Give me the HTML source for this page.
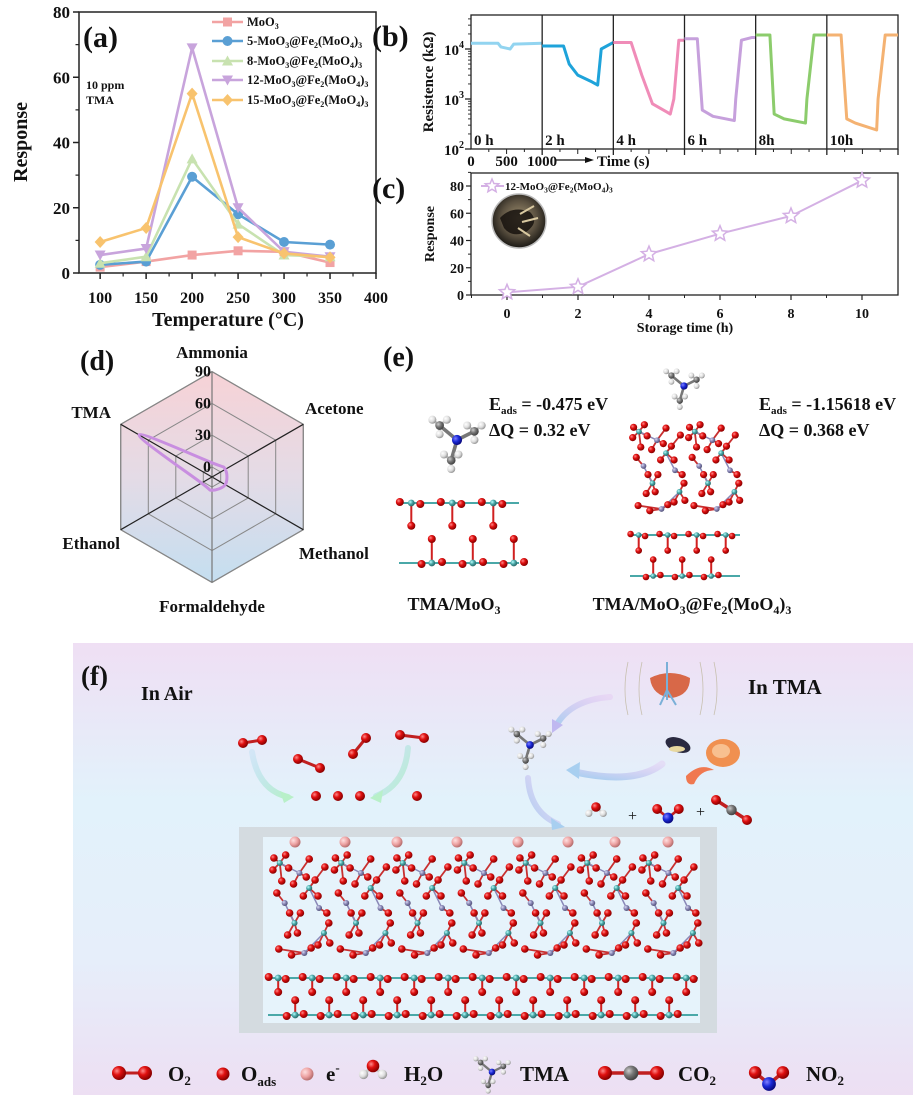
<!DOCTYPE html>
<html><head><meta charset="utf-8">
<style>
html,body{margin:0;padding:0;background:#fff;}
svg{display:block;font-family:"Liberation Serif",serif;font-weight:bold;}
.t{fill:#111;}
</style></head>
<body>
<svg id="fig" width="918" height="1100" viewBox="0 0 918 1100" xmlns="http://www.w3.org/2000/svg">
<defs>
<radialGradient id="gRed" cx="35%" cy="35%" r="65%"><stop offset="0" stop-color="#ff8a8a"/><stop offset="0.45" stop-color="#e01010"/><stop offset="1" stop-color="#8a0000"/></radialGradient>
<radialGradient id="gTeal" cx="35%" cy="35%" r="65%"><stop offset="0" stop-color="#bff"/><stop offset="0.5" stop-color="#4aa8a8"/><stop offset="1" stop-color="#2a6a6a"/></radialGradient>
<radialGradient id="gPur" cx="35%" cy="35%" r="65%"><stop offset="0" stop-color="#d8d8f0"/><stop offset="0.5" stop-color="#8a88b8"/><stop offset="1" stop-color="#55547a"/></radialGradient>
<radialGradient id="gPink" cx="35%" cy="35%" r="65%"><stop offset="0" stop-color="#ffe0e0"/><stop offset="0.6" stop-color="#eca0a0"/><stop offset="1" stop-color="#b87070"/></radialGradient>
<radialGradient id="gWhite" cx="35%" cy="35%" r="65%"><stop offset="0" stop-color="#fff"/><stop offset="0.6" stop-color="#ddd"/><stop offset="1" stop-color="#999"/></radialGradient>
<radialGradient id="gBlue" cx="35%" cy="35%" r="65%"><stop offset="0" stop-color="#8080ff"/><stop offset="0.5" stop-color="#1a2ad8"/><stop offset="1" stop-color="#0a0a80"/></radialGradient>
<radialGradient id="gGray" cx="35%" cy="35%" r="65%"><stop offset="0" stop-color="#ccc"/><stop offset="0.5" stop-color="#777"/><stop offset="1" stop-color="#444"/></radialGradient>
<linearGradient id="gRadar" x1="0" y1="0" x2="0" y2="1"><stop offset="0" stop-color="#f7d2d6"/><stop offset="0.5" stop-color="#e4dbe6"/><stop offset="1" stop-color="#c4def0"/></linearGradient>
<linearGradient id="gPanelF" x1="0" y1="0" x2="0" y2="1"><stop offset="0" stop-color="#efdff4"/><stop offset="0.35" stop-color="#e2f2fb"/><stop offset="0.7" stop-color="#e6eefa"/><stop offset="1" stop-color="#eddff3"/></linearGradient>
<linearGradient id="gArrow1" x1="0" y1="0" x2="1" y2="1"><stop offset="0" stop-color="#a8d8f0" stop-opacity="0.3"/><stop offset="1" stop-color="#b8f0c8"/></linearGradient>
<linearGradient id="gArrow2" x1="1" y1="0" x2="0" y2="1"><stop offset="0" stop-color="#e0b8f0" stop-opacity="0.3"/><stop offset="1" stop-color="#a8cff0"/></linearGradient>
<radialGradient id="gPhoto" cx="50%" cy="45%" r="55%"><stop offset="0" stop-color="#a09070"/><stop offset="0.6" stop-color="#5a5040"/><stop offset="1" stop-color="#1a1814"/></radialGradient>
</defs>

<!-- ============ PANEL A ============ -->
<g id="panelA">
  <text x="83" y="47" font-size="30" class="t">(a)</text>
  <text x="86" y="89" font-size="12" class="t">10 ppm</text>
  <text x="86" y="104" font-size="12" class="t">TMA</text>
  <text transform="translate(27,142) rotate(-90)" text-anchor="middle" font-size="20" class="t">Response</text>
  <text x="228" y="326" text-anchor="middle" font-size="20" class="t">Temperature (°C)</text>
  <g id="aLegend" font-size="12.5" class="t">
    <text x="247" y="26">MoO<tspan dy="3" font-size="8">3</tspan></text>
    <text x="247" y="45">5-MoO<tspan dy="3" font-size="8">3</tspan><tspan dy="-3">@Fe</tspan><tspan dy="3" font-size="8">2</tspan><tspan dy="-3">(MoO</tspan><tspan dy="3" font-size="8">4</tspan><tspan dy="-3">)</tspan><tspan dy="3" font-size="8">3</tspan></text>
    <text x="247" y="65">8-MoO<tspan dy="3" font-size="8">3</tspan><tspan dy="-3">@Fe</tspan><tspan dy="3" font-size="8">2</tspan><tspan dy="-3">(MoO</tspan><tspan dy="3" font-size="8">4</tspan><tspan dy="-3">)</tspan><tspan dy="3" font-size="8">3</tspan></text>
    <text x="247" y="84">12-MoO<tspan dy="3" font-size="8">3</tspan><tspan dy="-3">@Fe</tspan><tspan dy="3" font-size="8">2</tspan><tspan dy="-3">(MoO</tspan><tspan dy="3" font-size="8">4</tspan><tspan dy="-3">)</tspan><tspan dy="3" font-size="8">3</tspan></text>
    <text x="247" y="104">15-MoO<tspan dy="3" font-size="8">3</tspan><tspan dy="-3">@Fe</tspan><tspan dy="3" font-size="8">2</tspan><tspan dy="-3">(MoO</tspan><tspan dy="3" font-size="8">4</tspan><tspan dy="-3">)</tspan><tspan dy="3" font-size="8">3</tspan></text>
  </g>
</g>

<!-- ============ PANEL B ============ -->
<g id="panelB">
  <text x="372" y="46" font-size="30" class="t">(b)</text>
  <text transform="translate(433,82) rotate(-90)" text-anchor="middle" font-size="15" class="t">Resistence (kΩ)</text>
  <text x="597" y="166" font-size="15" class="t">Time (s)</text>
  <line x1="556" y1="160" x2="588" y2="160" stroke="#111" stroke-width="1.3"/>
  <path d="M594,160 L585,157 L585,163 Z" fill="#111"/>
</g>

<!-- ============ PANEL C ============ -->
<g id="panelC">
  <text x="372" y="198" font-size="30" class="t">(c)</text>
  <text transform="translate(434,234) rotate(-90)" text-anchor="middle" font-size="14" class="t">Response</text>
  <text x="685" y="332" text-anchor="middle" font-size="14" class="t">Storage time (h)</text>
  <circle cx="519" cy="221" r="27" fill="url(#gPhoto)" stroke="#bbb" stroke-width="1.5"/>
  <path d="M500,218 Q512,205 530,212 Q540,222 526,232 Q512,238 504,228 Z" fill="#16120e" opacity="0.85"/>
  <path d="M520,214 L534,206 M522,222 L538,218 M518,228 L530,236" stroke="#d8c8a0" stroke-width="2"/>
  <text x="505" y="190" font-size="11" class="t">12-MoO<tspan dy="2.5" font-size="7.5">3</tspan><tspan dy="-2.5">@Fe</tspan><tspan dy="2.5" font-size="7.5">2</tspan><tspan dy="-2.5">(MoO</tspan><tspan dy="2.5" font-size="7.5">4</tspan><tspan dy="-2.5">)</tspan><tspan dy="2.5" font-size="7.5">3</tspan></text>
</g>

<!-- ============ PANEL D ============ -->
<g id="panelD">
  <text x="80" y="370" font-size="28" class="t">(d)</text>
</g>

<!-- ============ PANEL E ============ -->
<g id="panelE">
  <text x="383" y="366" font-size="28" class="t">(e)</text>
  <text x="489" y="410" font-size="18" class="t">E<tspan dy="4" font-size="11">ads</tspan><tspan dy="-4"> = -0.475 eV</tspan></text>
  <text x="489" y="436" font-size="18" class="t">ΔQ = 0.32 eV</text>
  <text x="759" y="410" font-size="18" class="t">E<tspan dy="4" font-size="11">ads</tspan><tspan dy="-4"> = -1.15618 eV</tspan></text>
  <text x="759" y="436" font-size="18" class="t">ΔQ = 0.368 eV</text>
  <text x="454" y="610" text-anchor="middle" font-size="18" class="t">TMA/MoO<tspan dy="4" font-size="12">3</tspan></text>
  <text x="692" y="610" text-anchor="middle" font-size="18" class="t">TMA/MoO<tspan dy="4" font-size="12">3</tspan><tspan dy="-4">@Fe</tspan><tspan dy="4" font-size="12">2</tspan><tspan dy="-4">(MoO</tspan><tspan dy="4" font-size="12">4</tspan><tspan dy="-4">)</tspan><tspan dy="4" font-size="12">3</tspan></text>
</g>

<!-- ============ PANEL F ============ -->
<g id="panelF">
  <rect x="73" y="643" width="840" height="452" fill="url(#gPanelF)"/>
  <text x="81" y="685" font-size="27" class="t">(f)</text>
  <text x="141" y="700" font-size="20" class="t">In Air</text>
  <text x="748" y="694" font-size="21" class="t">In TMA</text>
  <rect x="239" y="827" width="478" height="206" fill="#d4dbe0"/>
  <rect x="263" y="837" width="437" height="186" fill="#e6f3fb"/>
  <g id="fArrows">
    <path d="M252,752 Q258,790 288,797" fill="none" stroke="url(#gArrow1)" stroke-width="6" stroke-linecap="round"/>
    <path d="M294,797 L280,791 L284,803 Z" fill="#b8f0c8"/>
    <path d="M408,748 Q405,785 376,796" fill="none" stroke="url(#gArrow1)" stroke-width="6" stroke-linecap="round"/>
    <path d="M370,798 L383,790 L381,803 Z" fill="#b8f0c8"/>
    <path d="M610,697 Q570,700 556,726" fill="none" stroke="url(#gArrow2)" stroke-width="6" stroke-linecap="round"/>
    <path d="M552,733 L552,719 L563,725 Z" fill="#c0b8f0"/>
    <path d="M662,764 Q635,785 575,772" fill="none" stroke="url(#gArrow2)" stroke-width="7" stroke-linecap="round"/>
    <path d="M566,770 L580,762 L579,779 Z" fill="#a8cff0"/>
    <path d="M528,778 Q530,812 558,824" fill="none" stroke="url(#gArrow2)" stroke-width="6" stroke-linecap="round"/>
    <path d="M565,827 L551,818 L552,830 Z" fill="#a8cff0"/>
  </g>
  <g id="fSources">
    <path d="M628,662 Q622,690 628,715 M642,662 Q636,690 642,715 M700,662 Q706,690 700,715 M714,662 Q720,690 714,715" fill="none" stroke="#c8c0b0" stroke-width="0.8"/>
    <path d="M650,678 Q670,668 690,678 Q690,695 672,698 Q652,696 650,678 Z" fill="#d86848"/>
    <path d="M667,662 L667,700 M667,690 L676,705 M667,690 L660,705" stroke="#7ab0d8" stroke-width="2"/>
    <ellipse cx="678" cy="745" rx="13" ry="7" fill="#2a2a40" transform="rotate(20 678 745)"/>
    <ellipse cx="677" cy="749" rx="8" ry="3" fill="#e8d8a0"/>
    <ellipse cx="723" cy="753" rx="17" ry="14" fill="#f09050"/>
    <ellipse cx="721" cy="751" rx="9" ry="7" fill="#f8c090"/>
    <path d="M686,776 Q700,762 714,770 Q700,770 694,784 Q686,786 686,776 Z" fill="#f07850"/>
  </g>
  <text x="628" y="821" font-size="16" class="t" font-weight="normal">+</text>
  <text x="696" y="817" font-size="16" class="t" font-weight="normal">+</text>
  <g id="fLegendText" font-size="21" class="t">
    <text x="168" y="1081">O<tspan dy="4" font-size="13">2</tspan></text>
    <text x="241" y="1081">O<tspan dy="5" font-size="13">ads</tspan></text>
    <text x="326" y="1081">e<tspan dy="-9" font-size="13">-</tspan></text>
    <text x="404" y="1081">H<tspan dy="4" font-size="13">2</tspan><tspan dy="-4">O</tspan></text>
    <text x="520" y="1081">TMA</text>
    <text x="678" y="1081">CO<tspan dy="4" font-size="13">2</tspan></text>
    <text x="806" y="1081">NO<tspan dy="4" font-size="13">2</tspan></text>
  </g>
</g>
</svg>

<script>
// ---------- Panel (a) data ----------
const tempC = [100, 150, 200, 250, 300, 350];
const respMoO3 = [1.8, 3.5, 5.5, 6.8, 6.5, 3.2];
const resp5 = [2.5, 3.5, 29.5, 18, 9.5, 8.7];
const resp8 = [3, 5, 35, 15, 5.5, 5];
const resp12 = [5.5, 7.5, 69, 20, 6.5, 5];
const resp15 = [9.5, 13.8, 55, 11, 6, 4.8];
const aXTicks = [100, 150, 200, 250, 300, 350, 400];
const aYTicks = [0, 20, 40, 60, 80];

// ---------- Panel (b) data ----------
const bSegLabels = ['0 h', '2 h', '4 h', '6 h', '8h', '10h'];
const bXTickLabels = ['0', '500', '1000'];
const traceT0 = [0, 380, 420, 550, 600, 1000];
const traceR0 = [13000, 13000, 11000, 10000, 12500, 13000];
const traceT1 = [0, 300, 380, 500, 700, 780, 830, 1000];
const traceR1 = [11500, 11500, 5000, 3000, 2200, 1900, 10000, 13500];
const traceT2 = [0, 250, 400, 550, 750, 800, 850, 920, 1000];
const traceR2 = [13500, 13500, 3000, 800, 550, 500, 1000, 15000, 15000];
const traceT3 = [0, 180, 250, 400, 700, 720, 800, 950, 1000];
const traceR3 = [16000, 16000, 600, 450, 370, 1000, 15000, 17000, 17000];
const traceT4 = [0, 200, 260, 400, 700, 720, 820, 1000];
const traceR4 = [19000, 19000, 500, 400, 330, 1000, 19000, 19000];
const traceT5 = [0, 200, 280, 400, 700, 720, 820, 1000];
const traceR5 = [19000, 19000, 400, 330, 240, 1000, 19000, 19000];

// ---------- Panel (c) data ----------
const storageH = [0, 2, 4, 6, 8, 10];
const storageResp = [2, 6, 30, 45, 58, 84];
const cXTicks = [0, 2, 4, 6, 8, 10];
const cYTicks = [0, 20, 40, 60, 80];

// ---------- Panel (d) data ----------
const gases = ['Ammonia', 'Acetone', 'Methanol', 'Formaldehyde', 'Ethanol', 'TMA'];
const gasResp = [4, 5, 5, 3, 2, 70];
const radarTicks = [0, 30, 60, 90];

const NS = 'http://www.w3.org/2000/svg';
function mk(tag, parent, attrs) {
  const e = document.createElementNS(NS, tag);
  for (const k in attrs) e.setAttribute(k, attrs[k]);
  parent.appendChild(e);
  return e;
}

// ================= PANEL A =================
(function () {
  const g = document.getElementById('panelA');
  const X0 = 79, X1 = 376, Y0 = 273, Y1 = 12;
  const xa = v => X0 + (v - 77) * (X1 - X0) / (400 - 77);
  const ya = v => Y0 - v * (Y0 - Y1) / 80;
  const frame = mk('rect', g, {x: X0, y: Y1, width: X1 - X0, height: Y0 - Y1, fill: 'none', stroke: '#222', 'stroke-width': 1.5});
  
  
  aXTicks.forEach(v => {
    const x = xa(v);
    const tk = mk('line', g, {x1: x, y1: Y0, x2: x, y2: Y0 + 6, stroke: '#222', 'stroke-width': 1.5});
    
    
    const mx = xa(v + 25);
    if (v < 400) {
      const mt = mk('line', g, {x1: mx, y1: Y0, x2: mx, y2: Y0 + 3.5, stroke: '#222', 'stroke-width': 1.2});
      
      
    }
    const t = mk('text', g, {x: x, y: 303, 'text-anchor': 'middle', 'font-size': 16, class: 't'});
    t.textContent = v;
    
    
  });
  aYTicks.forEach(v => {
    const y = ya(v);
    const tk = mk('line', g, {x1: X0 - 6, y1: y, x2: X0, y2: y, stroke: '#222', 'stroke-width': 1.5});
    
    
    if (v < 80) {
      const mt = mk('line', g, {x1: X0 - 3.5, y1: ya(v + 10), x2: X0, y2: ya(v + 10), stroke: '#222', 'stroke-width': 1.2});
      
      
    }
    const t = mk('text', g, {x: X0 - 9, y: y + 6, 'text-anchor': 'end', 'font-size': 17, class: 't'});
    t.textContent = v;
    
    
  });
  const series = [respMoO3, resp5, resp8, resp12, resp15];
  const colors = ['#f2a3a3', '#5a9fd4', '#c8e2b0', '#c8a4dc', '#f8c36e'];
  const shapes = ['sq', 'ci', 'tu', 'td', 'di'];
  const names = ['moo3', '5', '8', '12', '15'];
  const legY = [22, 41, 61, 80, 100];
  function marker(shape, x, y, col, parent) {
    let e;
    const r = 4.5;
    if (shape === 'sq') e = mk('rect', parent, {x: x - r, y: y - r, width: 2 * r, height: 2 * r, fill: col});
    else if (shape === 'ci') e = mk('circle', parent, {cx: x, cy: y, r: r + 0.5, fill: col});
    else if (shape === 'tu') e = mk('path', parent, {d: `M${x},${y - r - 1} L${x + r + 1},${y + r} L${x - r - 1},${y + r} Z`, fill: col});
    else if (shape === 'td') e = mk('path', parent, {d: `M${x},${y + r + 1} L${x + r + 1},${y - r} L${x - r - 1},${y - r} Z`, fill: col});
    else e = mk('path', parent, {d: `M${x},${y - r - 1.5} L${x + r + 1},${y} L${x},${y + r + 1.5} L${x - r - 1},${y} Z`, fill: col});
    return e;
  }
  series.forEach((s, i) => {
    const sg = mk('g', g, {});
    
    
    const pts = s.map((v, j) => xa(tempC[j]) + ',' + ya(v)).join(' ');
    const pl = mk('polyline', sg, {points: pts, fill: 'none', stroke: colors[i], 'stroke-width': 2.6});
    
    
    s.forEach((v, j) => {
      const m = marker(shapes[i], xa(tempC[j]), ya(v), colors[i], sg);
      
      
    });
    const ll = mk('line', g, {x1: 212, y1: legY[i], x2: 243, y2: legY[i], stroke: colors[i], 'stroke-width': 2.6});
    
    
    const lm = marker(shapes[i], 227.5, legY[i], colors[i], g);
    
    
  });
})();

// ================= PANEL B =================
(function () {
  const g = document.getElementById('panelB');
  const X0 = 471, X1 = 898, Y0 = 149, Y1 = 15;
  const segW = (X1 - X0) / 6;
  const xb = (seg, t) => X0 + seg * segW + t * segW / 1000;
  const yb = r => Y0 - (Math.log10(r) - 2) * 50;
  const frame = mk('rect', g, {x: X0, y: Y1, width: X1 - X0, height: Y0 - Y1, fill: 'none', stroke: '#222', 'stroke-width': 1.3});
  
  
  const Ts = [traceT0, traceT1, traceT2, traceT3, traceT4, traceT5];
  const Rs = [traceR0, traceR1, traceR2, traceR3, traceR4, traceR5];
  const cols = ['#92d4f0', '#1ea3da', '#f08cb8', '#c6a0dc', '#8ccc6c', '#f4b272'];
  for (let s = 0; s < 6; s++) {
    if (s > 0) {
      const d = mk('line', g, {x1: xb(s, 0), y1: Y1, x2: xb(s, 0), y2: Y0 + 6, stroke: '#222', 'stroke-width': 1.3});
      
      
    }
    const pts = Ts[s].map((t, j) => xb(s, t) + ',' + yb(Rs[s][j])).join(' ');
    const pl = mk('polyline', g, {points: pts, fill: 'none', stroke: cols[s], 'stroke-width': 3, 'stroke-linejoin': 'round'});
    
    
    const lb = mk('text', g, {x: xb(s, 0) + 3, y: 145, 'font-size': 15, class: 't'});
    lb.textContent = bSegLabels[s];
    
    
    [250, 500, 750].forEach(t => {
      const tk = mk('line', g, {x1: xb(s, t), y1: Y0, x2: xb(s, t), y2: Y0 + (t === 500 ? 5 : 3), stroke: '#222', 'stroke-width': 1});
      
      
    });
  }
  const endTick = mk('line', g, {x1: X1, y1: Y0, x2: X1, y2: Y0 + 6, stroke: '#222', 'stroke-width': 1.3});
  
  
  bXTickLabels.forEach((lab, i) => {
    const t = mk('text', g, {x: xb(0, i * 500), y: 166, 'text-anchor': 'middle', 'font-size': 15, class: 't'});
    t.textContent = lab;
    
    
  });
  [2, 3, 4].forEach(p => {
    const y = yb(Math.pow(10, p));
    const tk = mk('line', g, {x1: X0 - 6, y1: y, x2: X0, y2: y, stroke: '#222', 'stroke-width': 1.3});
    
    
    const t = mk('text', g, {x: 444, y: y + 6, 'font-size': 15, class: 't'});
    t.innerHTML = '10<tspan dy="-7" font-size="10">' + p + '</tspan>';
    
    
  });
  for (let p = 2; p <= 4; p++) for (let k = 2; k <= 9; k++) {
    const y = yb(k * Math.pow(10, p));
    if (y < Y1) continue;
    const mt = mk('line', g, {x1: X0 - 3, y1: y, x2: X0, y2: y, stroke: '#222', 'stroke-width': 0.9});
    
    
  }
})();

// ================= PANEL C =================
(function () {
  const g = document.getElementById('panelC');
  const X0 = 471, X1 = 898, Y0 = 295, Y1 = 173;
  const xc = v => 507 + v * 35.5;
  const yc = v => Y0 - v * 1.3625;
  const frame = mk('rect', g, {x: X0, y: Y1, width: X1 - X0, height: Y0 - Y1, fill: 'none', stroke: '#222', 'stroke-width': 1.3});
  
  
  cXTicks.forEach(v => {
    const tk = mk('line', g, {x1: xc(v), y1: Y0, x2: xc(v), y2: Y0 + 5, stroke: '#222', 'stroke-width': 1.2});
    
    
    const mt = mk('line', g, {x1: xc(v - 1), y1: Y0, x2: xc(v - 1), y2: Y0 + 3, stroke: '#222', 'stroke-width': 1});
    
    
    const t = mk('text', g, {x: xc(v), y: 318, 'text-anchor': 'middle', 'font-size': 14, class: 't'});
    t.textContent = v;
    
    
  });
  cYTicks.forEach(v => {
    const tk = mk('line', g, {x1: X0 - 5, y1: yc(v), x2: X0, y2: yc(v), stroke: '#222', 'stroke-width': 1.2});
    
    
    const mt = mk('line', g, {x1: X0 - 3, y1: yc(v + 10), x2: X0, y2: yc(v + 10), stroke: '#222', 'stroke-width': 1});
    
    
    const t = mk('text', g, {x: X0 - 7, y: yc(v) + 5, 'text-anchor': 'end', 'font-size': 14, class: 't'});
    t.textContent = v;
    
    
  });
  const col = '#d4b0e4';
  function star(cx, cy, r) {
    let d = '';
    for (let i = 0; i < 10; i++) {
      const a = -Math.PI / 2 + i * Math.PI / 5;
      const rr = i % 2 ? r * 0.45 : r;
      d += (i ? 'L' : 'M') + (cx + rr * Math.cos(a)).toFixed(1) + ',' + (cy + rr * Math.sin(a)).toFixed(1);
    }
    return d + 'Z';
  }
  const pts = storageH.map((h, i) => xc(h) + ',' + yc(storageResp[i])).join(' ');
  const pl = mk('polyline', g, {points: pts, fill: 'none', stroke: col, 'stroke-width': 2});
  
  
  storageH.forEach((h, i) => {
    const s = mk('path', g, {d: star(xc(h), yc(storageResp[i]), 8), fill: '#fff', stroke: col, 'stroke-width': 1.5});
    
    
  });
  const ll = mk('line', g, {x1: 481, y1: 186, x2: 504, y2: 186, stroke: col, 'stroke-width': 2});
  
  
  const ls = mk('path', g, {d: star(492, 186, 7), fill: '#fff', stroke: col, 'stroke-width': 1.5});
  
  
})();

// ================= PANEL D (radar) =================
(function () {
  const g = document.getElementById('panelD');
  const cx = 212, cy = 477;
  const rr = v => 10 + v * 1.06;
  const ang = i => -Math.PI / 2 + i * Math.PI / 3;
  const pt = (i, r) => [cx + r * Math.cos(ang(i)), cy + r * Math.sin(ang(i))];
  const hex = r => gases.map((_, i) => pt(i, r).map(n => n.toFixed(1)).join(',')).join(' ');
  const bg = mk('polygon', g, {points: hex(rr(90)), fill: 'url(#gRadar)', stroke: '#777', 'stroke-width': 1.2});
  
  
  radarTicks.forEach(v => {
    const p = mk('polygon', g, {points: hex(rr(v)), fill: 'none', stroke: '#888', 'stroke-width': 1});
    
    
  });
  gases.forEach((_, i) => {
    const [x, y] = pt(i, rr(90));
    const l = mk('line', g, {x1: cx, y1: cy, x2: x, y2: y, stroke: i % 3 === 0 ? '#777' : '#222', 'stroke-width': 1.2});
    
    
  });
  const P = gasResp.map((v, i) => pt(i, rr(v)));
  let d = 'M' + P[0][0].toFixed(1) + ',' + P[0][1].toFixed(1);
  const n = P.length;
  for (let i = 0; i < n; i++) {
    const p0 = P[(i - 1 + n) % n], p1 = P[i], p2 = P[(i + 1) % n], p3 = P[(i + 2) % n];
    const c1 = [p1[0] + (p2[0] - p0[0]) / 6, p1[1] + (p2[1] - p0[1]) / 6];
    const c2 = [p2[0] - (p3[0] - p1[0]) / 6, p2[1] - (p3[1] - p1[1]) / 6];
    d += ` C${c1[0].toFixed(1)},${c1[1].toFixed(1)} ${c2[0].toFixed(1)},${c2[1].toFixed(1)} ${p2[0].toFixed(1)},${p2[1].toFixed(1)}`;
  }
  const curve = mk('path', g, {d: d + 'Z', fill: 'none', stroke: '#c88ee0', 'stroke-width': 3});
  
  
  radarTicks.forEach(v => {
    const t = mk('text', g, {x: 211, y: cy - rr(v) + 5, 'text-anchor': 'end', 'font-size': 16, class: 't'});
    t.textContent = v;
    
    
  });
  const labPos = [[212, 358, 'middle'], [305, 414, 'start'], [299, 559, 'start'], [212, 612, 'middle'], [120, 549, 'end'], [111, 418, 'end']];
  gases.forEach((name, i) => {
    const t = mk('text', g, {x: labPos[i][0], y: labPos[i][1], 'text-anchor': labPos[i][2], 'font-size': 17, class: 't'});
    t.textContent = name;
    
    
  });
})();

// ================= molecule helpers =================
function atom(parent, x, y, r, fill, name) {
  const c = mk('circle', parent, {cx: x, cy: y, r: r, fill: 'url(#' + fill + ')'});
  
  
  return c;
}
function bond(parent, x1, y1, x2, y2, col, w) {
  const l = mk('line', parent, {x1: x1, y1: y1, x2: x2, y2: y2, stroke: col, 'stroke-width': w || 2.5});
  
  
}
function moo3Slab(parent, x0, x1, yTop, yBot, sp, r) {
  const yMidT = yTop + (yBot - yTop) * 0.38, yMidB = yTop + (yBot - yTop) * 0.6;
  bond(parent, x0, yTop, x1, yTop, '#4aa8a8', 2);
  bond(parent, x0, yBot, x1, yBot, '#4aa8a8', 2);
  for (let x = x0 + sp * 0.3; x < x1; x += sp) {
    bond(parent, x, yTop, x, yMidT, '#d02020', 2);
    atom(parent, x, yMidT, r, 'gRed', 'oxygen-atom');
    atom(parent, x - sp * 0.28, yTop - 1, r, 'gRed', 'oxygen-atom');
    atom(parent, x + sp * 0.22, yTop + 1, r, 'gRed', 'oxygen-atom');
    atom(parent, x, yTop, r * 0.85, 'gTeal', 'mo-atom');
    const xb = x + sp * 0.5;
    if (xb < x1) {
      bond(parent, xb, yBot, xb, yMidB, '#d02020', 2);
      atom(parent, xb, yMidB, r, 'gRed', 'oxygen-atom');
      atom(parent, xb - sp * 0.25, yBot + 1, r, 'gRed', 'oxygen-atom');
      atom(parent, xb + sp * 0.25, yBot - 1, r, 'gRed', 'oxygen-atom');
      atom(parent, xb, yBot, r * 0.85, 'gTeal', 'mo-atom');
    }
  }
}
const unitMetals = [[10,10,'gTeal'],[40,35,'gTeal'],[25,70,'gTeal'],[55,80,'gTeal'],[30,20,'gPur'],[50,55,'gPur'],[15,50,'gPur'],[35,100,'gPur']];
const unitO = [[4,5],[16,2],[19,15],[3,17],[24,31],[46,27],[49,43],[34,43],[20,60],[31,60],[28,80],[18,82],[60,70],[61,90],[49,92],[42,95],[7,40],[56,14],[40,6],[9,96],[22,102],[58,60],[37,24],[12,28]];
function fmoUnit(parent, ox, oy, sx, sy, r) {
  unitO.forEach(o => {
    let best = null, bd = 1e9;
    unitMetals.forEach(m => { const dd = (m[0]-o[0])**2 + (m[1]-o[1])**2; if (dd < bd) { bd = dd; best = m; } });
    bond(parent, ox + o[0]*sx, oy + o[1]*sy, ox + best[0]*sx, oy + best[1]*sy, '#c83030', 1.8);
  });
  for (let i = 0; i < 4; i++) {
    const a = unitMetals[i], b = unitMetals[i + 4];
    bond(parent, ox + a[0]*sx, oy + a[1]*sy, ox + b[0]*sx, oy + b[1]*sy, '#8a88b8', 1.5);
  }
  unitO.forEach(o => atom(parent, ox + o[0]*sx, oy + o[1]*sy, r, 'gRed', 'oxygen-atom'));
  unitMetals.forEach(m => atom(parent, ox + m[0]*sx, oy + m[1]*sy, r * 0.8, m[2], m[2] === 'gTeal' ? 'mo-atom' : 'fe-atom'));
}
function tma(parent, x, y, s) {
  const arms = [[-12,-10],[12,-6],[-4,14]];
  arms.forEach(a => {
    bond(parent, x, y, x + a[0]*s, y + a[1]*s, '#777', 2.5*s);
    [[-5,-4],[5,-4],[0,6]].forEach(h => {
      bond(parent, x + a[0]*s, y + a[1]*s, x + (a[0]+h[0])*s, y + (a[1]+h[1])*s, '#bbb', 1.8*s);
      atom(parent, x + (a[0]+h[0])*s, y + (a[1]+h[1])*s, 2.8*s, 'gWhite', 'hydrogen-atom');
    });
    atom(parent, x + a[0]*s, y + a[1]*s, 3*s, 'gGray', 'carbon-atom');
  });
  atom(parent, x, y, 3.5*s, 'gBlue', 'nitrogen-atom');
}
function o2(parent, x1, y1, x2, y2, r) {
  bond(parent, x1, y1, x2, y2, '#c02020', 3);
  atom(parent, x1, y1, r, 'gRed', 'oxygen-atom');
  atom(parent, x2, y2, r, 'gRed', 'oxygen-atom');
}
function h2o(parent, x, y, s) {
  bond(parent, x, y, x - 9*s, y + 8*s, '#ccc', 3*s);
  bond(parent, x, y, x + 9*s, y + 8*s, '#ccc', 3*s);
  atom(parent, x - 9*s, y + 8*s, 4.5*s, 'gWhite', 'hydrogen-atom');
  atom(parent, x + 9*s, y + 8*s, 4.5*s, 'gWhite', 'hydrogen-atom');
  atom(parent, x, y, 6*s, 'gRed', 'oxygen-atom');
}
function no2(parent, x, y, s) {
  bond(parent, x, y, x - 12*s, y - 10*s, '#c02020', 3*s);
  bond(parent, x, y, x + 12*s, y - 10*s, '#c02020', 3*s);
  atom(parent, x - 12*s, y - 10*s, 5.5*s, 'gRed', 'oxygen-atom');
  atom(parent, x + 12*s, y - 10*s, 5.5*s, 'gRed', 'oxygen-atom');
  atom(parent, x, y, 6*s, 'gBlue', 'nitrogen-atom');
}
function co2(parent, x1, y1, x2, y2, r) {
  bond(parent, x1, y1, x2, y2, '#c02020', 3.5);
  atom(parent, x1, y1, r, 'gRed', 'oxygen-atom');
  atom(parent, x2, y2, r, 'gRed', 'oxygen-atom');
  atom(parent, (x1 + x2) / 2, (y1 + y2) / 2, r * 1.05, 'gGray', 'carbon-atom');
}

// ================= PANEL E structures =================
(function () {
  const g = document.getElementById('panelE');
  const s1 = mk('g', g, {});  
  moo3Slab(s1, 399, 519, 503, 563, 41, 4);
  const s2 = mk('g', g, {});  
  fmoUnit(s2, 630, 423, 0.9, 0.86, 3.6);
  fmoUnit(s2, 686, 423, 0.88, 0.86, 3.6);
  const s3 = mk('g', g, {});  
  moo3Slab(s3, 630, 740, 535, 576, 29, 3.3);
  const m1 = mk('g', g, {});  
  tma(m1, 457, 440, 1.45);
  const m2 = mk('g', g, {});  
  tma(m2, 684, 386, 1.05);
})();

// ================= PANEL F structures =================
(function () {
  const g = document.getElementById('panelF');
  const mol = mk('g', g, {});  
  o2(mol, 243, 743, 262, 740, 5);
  o2(mol, 298, 759, 320, 768, 5);
  o2(mol, 353, 754, 366, 738, 5);
  o2(mol, 400, 735, 424, 738, 5);
  [316, 338, 360, 417].forEach(x => atom(mol, x, 796, 5, 'gRed', 'adsorbed-oxygen'));
  const tm = mk('g', g, {});  
  tma(tm, 530, 745, 1.1);
  const pr = mk('g', g, {});  
  h2o(pr, 596, 807, 0.8);
  no2(pr, 668, 818, 0.9);
  co2(pr, 716, 800, 747, 820, 5);
  const el = mk('g', g, {});  
  [295, 345, 397, 457, 518, 568, 615, 668].forEach(x => atom(el, x, 842, 5.5, 'gPink', 'electron'));
  const cr = mk('g', g, {});  
  for (let i = 0; i < 7; i++) fmoUnit(cr, 270 + i * 61.5, 853, 0.98, 1.0, 3.8);
  const sl = mk('g', g, {});  
  moo3Slab(sl, 268, 698, 978, 1015, 34, 4);
  const lg = mk('g', g, {});  
  o2(lg, 119, 1073, 145, 1073, 7);
  atom(lg, 223, 1074, 6.5, 'gRed', 'legend-oads-icon');
  atom(lg, 307, 1074, 6.5, 'gPink', 'legend-electron-icon');
  h2o(lg, 373, 1066, 1.05);
  tma(lg, 492, 1072, 0.95);
  co2(lg, 605, 1073, 657, 1073, 7);
  no2(lg, 769, 1084, 1.15);
})();
</script>
</body></html>
